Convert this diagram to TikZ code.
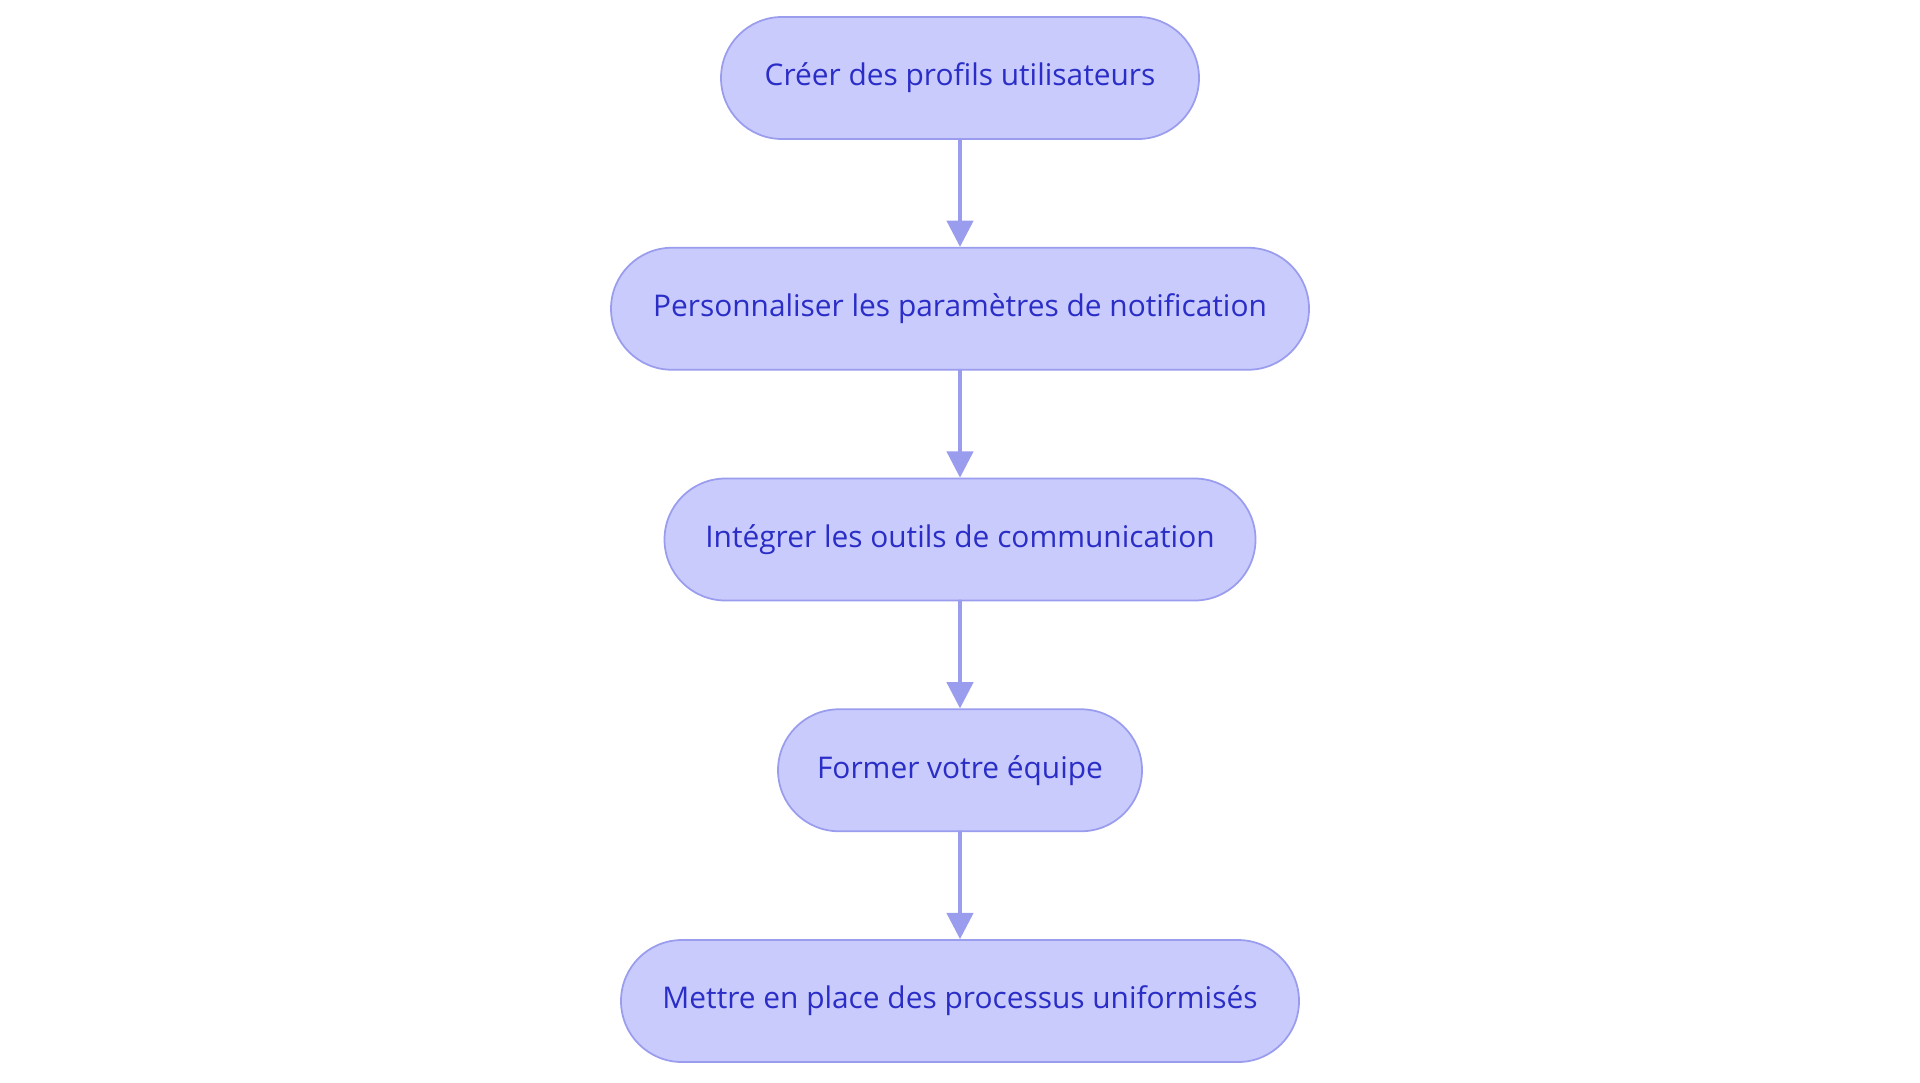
\documentclass[tikz,border=0pt]{standalone}
\usepackage{fontspec}
\setmainfont{Open Sans}
\usetikzlibrary{arrows.meta}
\usetikzlibrary{positioning}
\definecolor{stepfill}{HTML}{C9CBFC}
\definecolor{stepline}{HTML}{9A9DEE}
\definecolor{steptext}{HTML}{2A2DC6}

\begin{document}
\begin{tikzpicture}[line cap=round, line join=round,
		stepbox/.style={draw=stepline, line width=1pt, fill=stepfill, text=steptext,
			rounded corners=1.22cm, minimum height=2.44cm, inner sep=0pt,
			font=\fontsize{17}{20}\selectfont},
		flow/.style={draw=stepline, line width=2.2pt, -{Triangle[length=15pt,width=15pt]}}]
		\useasboundingbox (0,0) rectangle (38.4,-21.66);
		\node[stepbox, minimum width=9.56cm] (profils) at (19.2,-1.56) {Créer des profils utilisateurs};
		\node[stepbox, minimum width=13.96cm, below=2.14cm of profils] (notif) {Personnaliser les paramètres de notification};
		\node[stepbox, minimum width=11.82cm, below=2.14cm of notif] (outils) {Intégrer les outils de communication};
		\node[stepbox, minimum width=7.28cm, below=2.14cm of outils] (equipe) {Former votre équipe};
		\node[stepbox, minimum width=13.56cm, below=2.14cm of equipe] (processus) {Mettre en place des processus uniformisés};
		\draw[flow] (profils) -- (notif);
		\draw[flow] (notif) -- (outils);
		\draw[flow] (outils) -- (equipe);
		\draw[flow] (equipe) -- (processus);
	\end{tikzpicture}
\end{document}
